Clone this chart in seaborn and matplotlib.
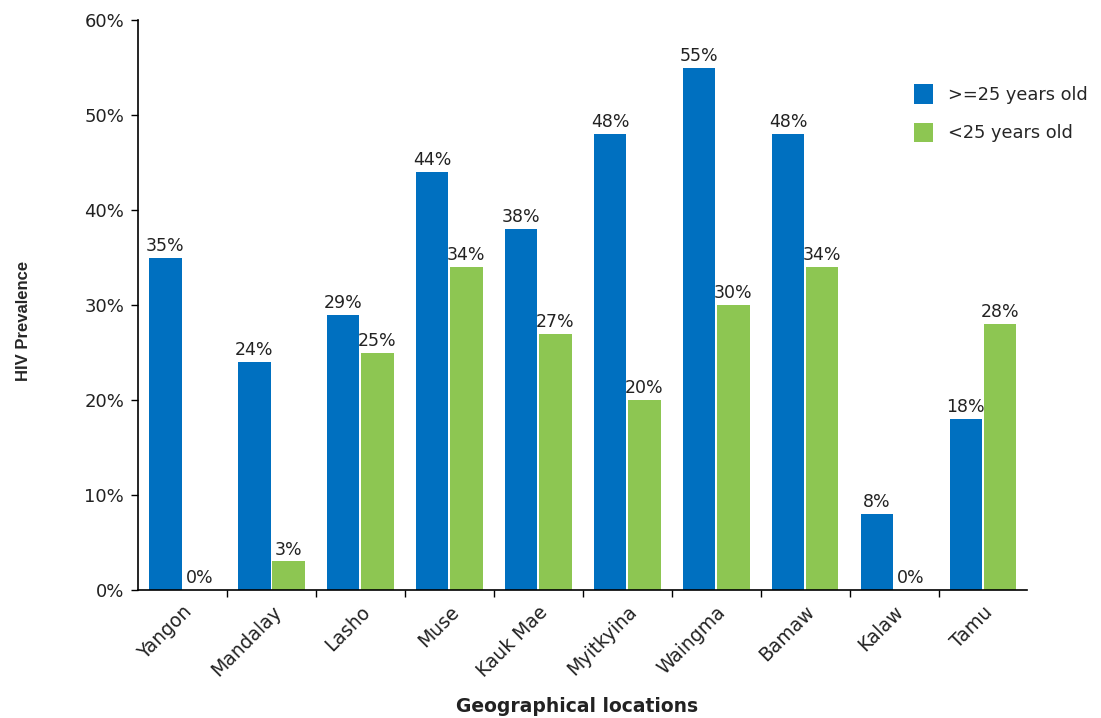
import matplotlib
matplotlib.use("Agg")
import matplotlib.pyplot as plt
import seaborn as sns
import pandas as pd
import numpy as np
from matplotlib.ticker import FuncFormatter, FixedLocator

locations = ["Yangon", "Mandalay", "Lasho", "Muse", "Kauk Mae", "Myitkyina",
             "Waingma", "Bamaw", "Kalaw", "Tamu"]
older = [35, 24, 29, 44, 38, 48, 55, 48, 8, 18]
younger = [0, 3, 25, 34, 27, 20, 30, 34, 0, 28]
series_names = [">=25 years old", "<25 years old"]
colors = ["#0070C0", "#8DC652"]

df = pd.DataFrame({
    "location": locations * 2,
    "group": [series_names[0]] * len(locations) + [series_names[1]] * len(locations),
    "value": older + younger,
})

sns.set_theme(style="white")
plt.rcParams["font.family"] = ["DejaVu Sans"]

fig = plt.figure(figsize=(11.01, 7.18), dpi=100)
ax = fig.add_axes([0.1253, 0.1783, 0.8079, 0.7938])

sns.barplot(data=df, x="location", y="value", hue="group", order=locations,
            hue_order=series_names, palette=colors, width=0.77, gap=0.05,
            saturation=1, linewidth=0, ax=ax, legend=True)

for cont in ax.containers:
    ax.bar_label(cont, labels=[f"{v:.0f}%" for v in cont.datavalues],
                 padding=2, fontsize=12.5, color="#222222")

ax.set_ylim(0, 60)
ax.set_xlim(-0.5, len(locations) - 0.5)
ax.set_yticks(np.arange(0, 61, 10))
ax.yaxis.set_major_formatter(FuncFormatter(lambda v, p: f"{v:.0f}%"))
ax.tick_params(axis="y", direction="out", length=5, width=1, color="black",
               labelsize=13, left=True, pad=5, labelcolor="#222222")

# category labels centred on groups, tick marks between groups
ax.set_xticks(range(len(locations)))
ax.set_xticklabels(locations, rotation=45, ha="right", rotation_mode="anchor",
                   fontsize=13.5, color="#222222")
ax.tick_params(axis="x", which="major", length=0, pad=9)
ax.xaxis.set_minor_locator(FixedLocator(np.arange(0.5, len(locations) - 0.5, 1)))
ax.tick_params(axis="x", which="minor", direction="out", length=5, width=1,
               color="black", bottom=True)

for side in ["top", "right"]:
    ax.spines[side].set_visible(False)
for side in ["left", "bottom"]:
    ax.spines[side].set_color("black")
    ax.spines[side].set_linewidth(1.2)

ax.set_ylabel("")
ax.set_xlabel("")
fig.text(0.021, 0.553, "HIV Prevalence", rotation=90, ha="center", va="center",
         fontsize=12, fontweight="bold", family=["Liberation Sans"])
fig.text(0.524, 0.003, "Geographical locations", ha="center", va="bottom",
         fontsize=13.5, fontweight="bold", color="#222222")

ax.legend(loc="upper left", bbox_to_anchor=(0.822, 0.895), bbox_transform=fig.transFigure,
          frameon=False, fontsize=12.8, handlelength=1.1, handleheight=1.3,
          labelspacing=1.05, handletextpad=0.8, borderpad=0)

fig.savefig("out.png", dpi=100)
